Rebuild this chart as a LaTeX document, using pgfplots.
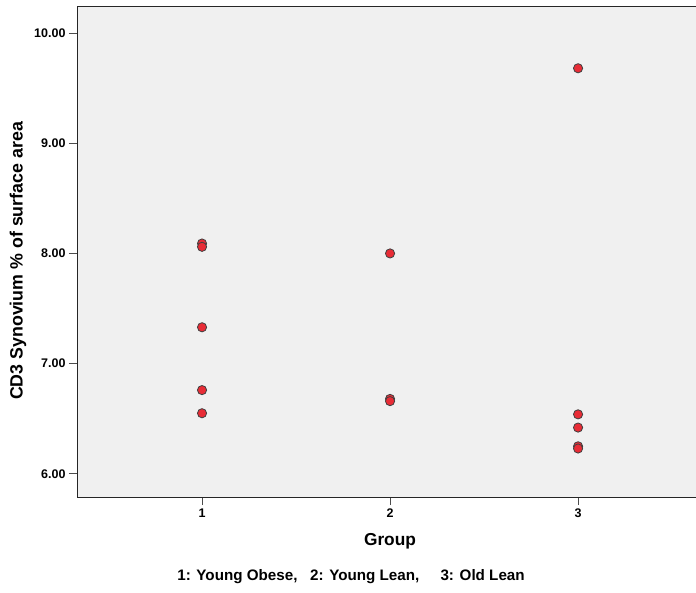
\documentclass[border=0pt]{standalone}
\usepackage{pgfplots}
\pgfplotsset{compat=1.18}
\usepackage{fontspec}
\setmainfont{Liberation Sans}
\definecolor{plotbg}{RGB}{240,240,240}
\definecolor{dotred}{RGB}{232,44,54}
\begin{document}
\begin{tikzpicture}[x=1pt,y=1pt]
\begin{axis}[
  at={(77pt,95pt)}, anchor=south west,
  scale only axis, width=640pt, height=490pt,
  xmin=0.335, xmax=3.739, ymin=5.79, ymax=10.236,
  axis background/.style={fill=plotbg},
  axis line style={draw=black!85, line width=1pt},
  xtick={1,2,3}, ytick={6,7,8,9,10},
  yticklabel style={/pgf/number format/.cd, fixed, fixed zerofill, precision=2},
  tick style={draw=black!70, line width=1pt},
  tick align=outside, major tick length=8pt,
  xtick pos=bottom, ytick pos=left,
  ticklabel style={font=\bfseries\fontsize{12.5}{14}\selectfont},
  /pgf/number format/assume math mode=true,
]
\addplot[only marks, mark=*, mark size=4.6pt,
  mark options={fill=dotred, draw=black!75, line width=0.8pt}]
  coordinates {
  (1,8.09) (1,8.06) (1,7.33) (1,6.76) (1,6.55)
  (2,8.00) (2,6.68) (2,6.66)
  (3,9.68) (3,6.54) (3,6.42) (3,6.25) (3,6.23)
  };
\end{axis}
\node[rotate=90, font=\bfseries\fontsize{17.8}{19}\selectfont] at (18,331) {CD3 Synovium \% of surface area};
\node[font=\bfseries\fontsize{17.3}{19}\selectfont] at (390,51) {Group};
\node[font=\bfseries\fontsize{15.2}{17}\selectfont] at (351,15) {1: Young Obese,\ \ \ 2: Young Lean,\ \ \ \ \ 3: Old Lean};
\pgfresetboundingbox
\useasboundingbox (0,0) rectangle (696,592);
\end{tikzpicture}
\end{document}
